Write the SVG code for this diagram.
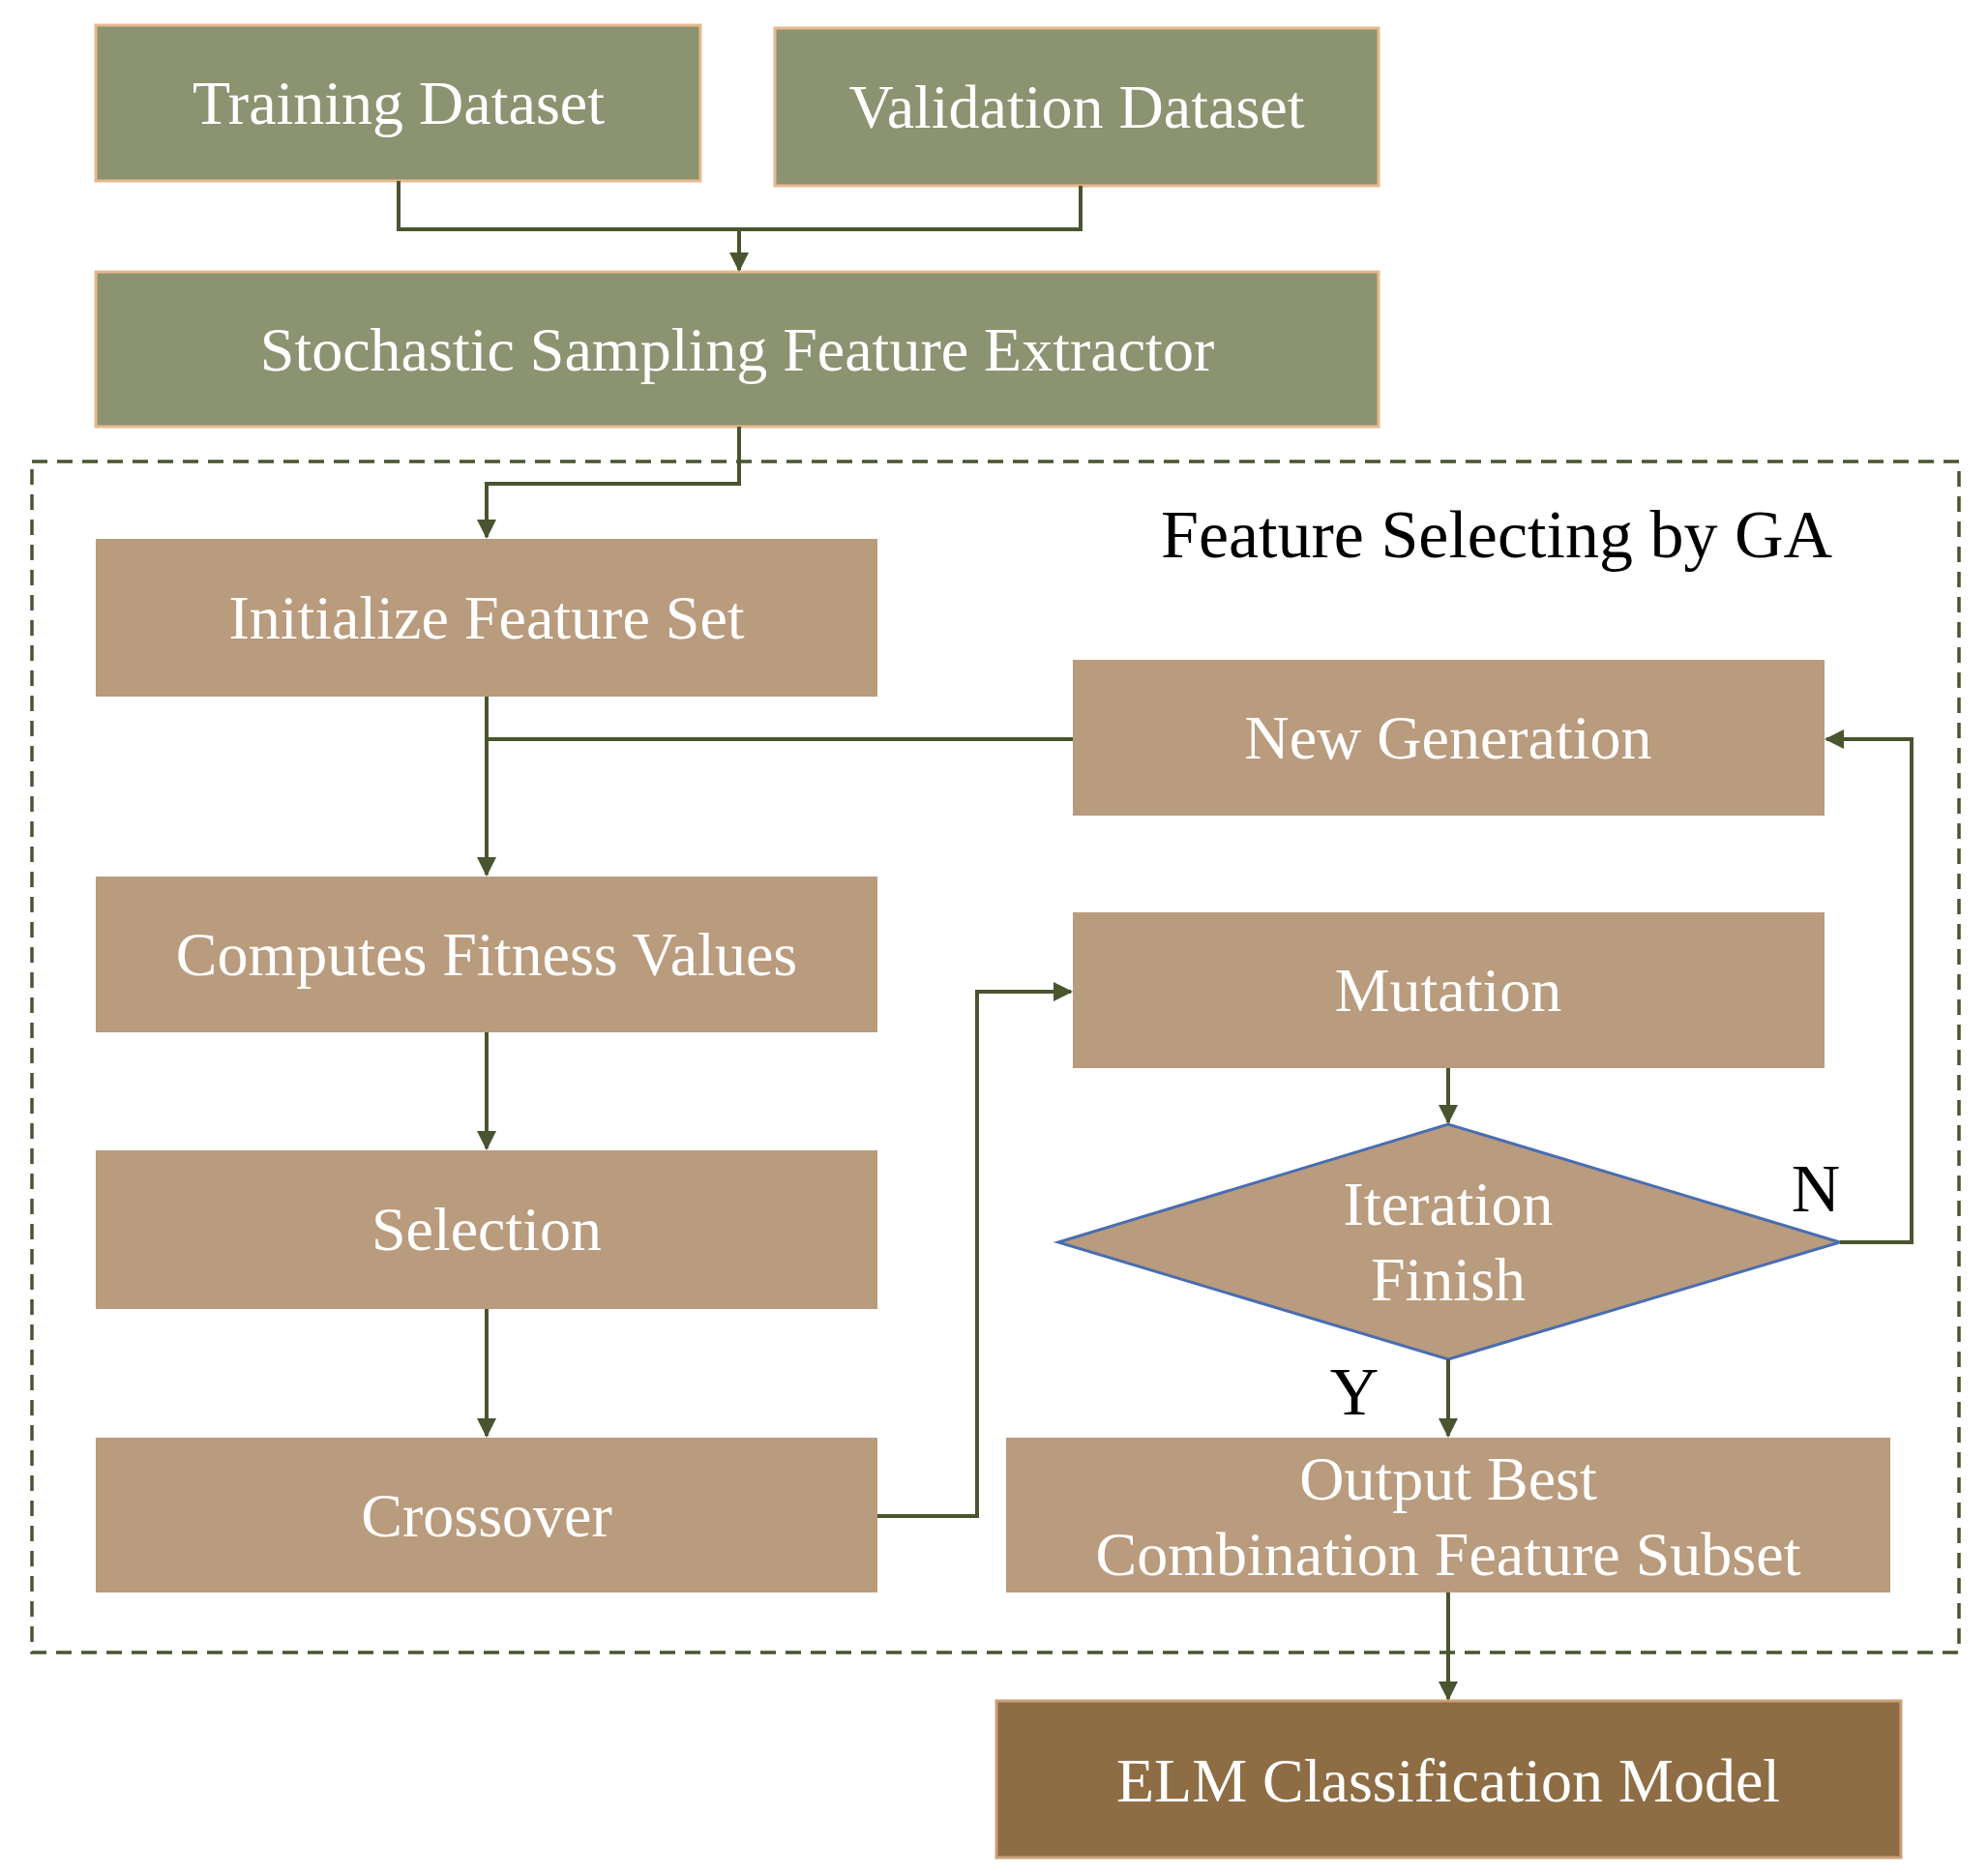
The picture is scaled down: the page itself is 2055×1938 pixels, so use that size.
<svg xmlns="http://www.w3.org/2000/svg" width="2055" height="1938" viewBox="0 0 2055 1938">
<defs>
<style>
.g{fill:#8c9371;stroke:#e8b98f;stroke-width:3}
.t{fill:#b99b7d}
.e{fill:#8e6d44;stroke:#c9a27a;stroke-width:3}
.lbl{font-family:"Liberation Serif",serif;font-size:64px;fill:#fff;text-anchor:middle}
.c{fill:none;stroke:#4a5530;stroke-width:4}
.k{font-family:"Liberation Serif",serif;font-size:70px;fill:#000;text-anchor:middle}
</style>
<marker id="a" viewBox="0 0 10 10" refX="9" refY="5" markerWidth="5" markerHeight="5" orient="auto"><path d="M0,0L10,5L0,10z" fill="#4a5530"/></marker>
</defs>
<rect width="2055" height="1938" fill="#fff"/>
<rect x="33" y="477" width="1992" height="1231" fill="none" stroke="#4a5530" stroke-width="3.5" stroke-dasharray="16,10"/>
<text class="k" x="1547" y="576">Feature Selecting by GA</text>
<g id="training"><rect class="g" x="99" y="26" width="625" height="161"/><text class="lbl" x="412" y="128">Training Dataset</text></g>
<g id="validation"><rect class="g" x="801" y="29" width="624" height="163"/><text class="lbl" x="1113" y="132">Validation Dataset</text></g>
<g id="extractor"><rect class="g" x="99" y="281" width="1326" height="160"/><text class="lbl" x="762" y="383">Stochastic Sampling Feature Extractor</text></g>
<g id="init"><rect class="t" x="99" y="557" width="808" height="163"/><text class="lbl" x="503" y="660">Initialize Feature Set</text></g>
<g id="newgen"><rect class="t" x="1109" y="682" width="777" height="161"/><text class="lbl" x="1497" y="784">New Generation</text></g>
<g id="fitness"><rect class="t" x="99" y="906" width="808" height="161"/><text class="lbl" x="503" y="1008">Computes Fitness Values</text></g>
<g id="mutation"><rect class="t" x="1109" y="943" width="777" height="161"/><text class="lbl" x="1497" y="1045">Mutation</text></g>
<g id="selection"><rect class="t" x="99" y="1189" width="808" height="164"/><text class="lbl" x="503" y="1292">Selection</text></g>
<g id="crossover"><rect class="t" x="99" y="1486" width="808" height="160"/><text class="lbl" x="503" y="1588">Crossover</text></g>
<g id="iteration"><polygon points="1094,1284 1497,1162 1902,1284 1497,1405" fill="#b99b7d" stroke="#4a6db0" stroke-width="3"/><text class="lbl" x="1497" y="1266">Iteration</text><text class="lbl" x="1497" y="1344">Finish</text></g>
<g id="output"><rect class="t" x="1040" y="1486" width="914" height="160"/><text class="lbl" x="1497" y="1550">Output Best</text><text class="lbl" x="1497" y="1628">Combination Feature Subset</text></g>
<g id="elm"><rect class="e" x="1030" y="1758" width="935" height="162"/><text class="lbl" x="1497" y="1862">ELM Classification Model</text></g>
<g id="connectors">
<path class="c" d="M412,187V237H1117V192"/>
<path class="c" d="M764,237V279" marker-end="url(#a)"/>
<path class="c" d="M764,441V500H503V555" marker-end="url(#a)"/>
<path class="c" d="M503,720V904" marker-end="url(#a)"/>
<path class="c" d="M1109,764H503"/>
<path class="c" d="M503,1067V1187" marker-end="url(#a)"/>
<path class="c" d="M503,1353V1484" marker-end="url(#a)"/>
<path class="c" d="M907,1567H1010V1025H1107" marker-end="url(#a)"/>
<path class="c" d="M1497,1104V1160" marker-end="url(#a)"/>
<path class="c" d="M1902,1284H1976V764H1888" marker-end="url(#a)"/>
<path class="c" d="M1497,1405V1484" marker-end="url(#a)"/>
<path class="c" d="M1497,1646V1756" marker-end="url(#a)"/>
</g>
<text class="k" x="1877" y="1252">N</text>
<text class="k" x="1400" y="1462">Y</text>
</svg>
